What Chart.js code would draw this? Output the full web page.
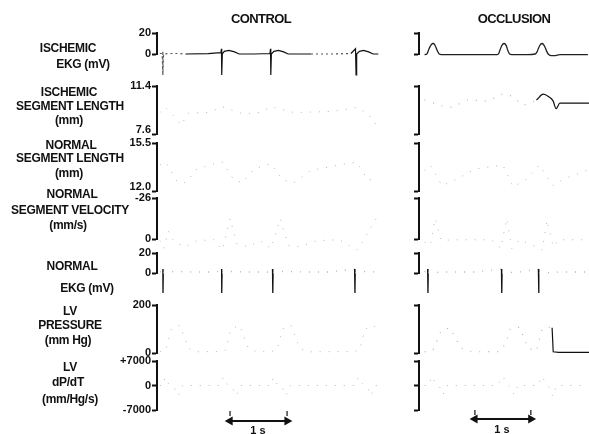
<!DOCTYPE html>
<html><head><meta charset="utf-8">
<script src="https://cdn.jsdelivr.net/npm/chart.js@4"></script>
<style>
html,body{margin:0;padding:0;background:#fff;width:589px;height:434px;overflow:hidden;}
#wrap{position:relative;width:589px;height:434px;font-family:"Liberation Sans",Arial,sans-serif;font-weight:bold;color:#111;}
.t{position:absolute;width:200px;text-align:center;white-space:nowrap;font-size:12px;line-height:14px;letter-spacing:-0.3px;z-index:2;}
.ttl{font-size:13px;letter-spacing:-0.6px;}
.sb{font-size:11px;letter-spacing:0;}
.box{position:absolute;}
</style></head>
<body><div id="wrap">
<div class="t ttl" style="left:161px;top:12px">CONTROL</div>
<div class="t ttl" style="left:414px;top:12px">OCCLUSION</div>

<div class="t" style="left:-32px;top:41px">ISCHEMIC</div>
<div class="t" style="left:-17px;top:57px">EKG (mV)</div>

<div class="t" style="left:-31px;top:85px">ISCHEMIC</div>
<div class="t" style="left:-30px;top:99px">SEGMENT LENGTH</div>
<div class="t" style="left:-31px;top:113px">(mm)</div>

<div class="t" style="left:-29px;top:138px">NORMAL</div>
<div class="t" style="left:-30px;top:151px">SEGMENT LENGTH</div>
<div class="t" style="left:-31px;top:166px">(mm)</div>

<div class="t" style="left:-28px;top:187px">NORMAL</div>
<div class="t" style="left:-30px;top:203px">SEGMENT VELOCITY</div>
<div class="t" style="left:-32px;top:218px">(mm/s)</div>

<div class="t" style="left:-28px;top:259px">NORMAL</div>
<div class="t" style="left:-13px;top:281px">EKG (mV)</div>

<div class="t" style="left:-30px;top:304px">LV</div>
<div class="t" style="left:-30px;top:318px">PRESSURE</div>
<div class="t" style="left:-32px;top:333px">(mm Hg)</div>

<div class="t" style="left:-30px;top:360px">LV</div>
<div class="t" style="left:-32px;top:375px">dP/dT</div>
<div class="t" style="left:-30px;top:392px">(mm/Hg/s)</div>

<div class="t sb" style="left:158px;top:423px">1 s</div>
<div class="t sb" style="left:402px;top:422px">1 s</div>

<div class="box" style="left:117px;top:25px;width:283px;height:409px"><canvas id="c1"></canvas></div>
<div class="box" style="left:407px;top:25px;width:182px;height:409px"><canvas id="c2"></canvas></div>
</div>
<script>
// ---------- tick values / labels per row (a label given as [text, ''] sits a little above its tick) ----------
const ischEkgTicks = [0, 20];          const ischEkgLabels = ['0', '20'];
const ischLenTicks = [7.6, 11.4];      const ischLenLabels = [['7.6', ''], '11.4'];
const normLenTicks = [12.0, 15.5];     const normLenLabels = [['12.0', ''], '15.5'];
const normVelTicks = [-26, 0];         const normVelLabels = ['-26', '0'];
const normEkgTicks = [0, 20];          const normEkgLabels = ['0', '20'];
const lvpTicks = [0, 200];             const lvpLabels = ['0', '200'];
const dpdtTicks = [-7000, 0, 7000];    const dpdtLabels = ['-7000', '0', '+7000'];

// ---------- CONTROL series  [time (s), value] ----------
const ctrlIschEKG = [[0.05,0.5],[0.09,0.5],[0.10,3],[0.105,-20],[0.115,0],[0.2,0.5],[0.35,0.5],[0.5,0],[0.9,0.3],[1.05,1],[1.12,1],[1.13,5],[1.135,-20],[1.145,0],[1.18,2.5],[1.26,3.5],[1.36,2],[1.44,0],[1.7,0],[1.98,0.5],[1.99,5],[1.995,-20],[2.005,0],[2.05,2.5],[2.13,3.5],[2.22,2],[2.30,0],[2.7,0],[3.1,0],[3.40,0.5],[3.48,5],[3.49,-20],[3.50,0],[3.55,2.5],[3.62,3.5],[3.71,2],[3.79,0],[3.88,0]];
const ctrlIschLen = [[0.05,9.3],[0.15,9.7],[0.3,9.0],[0.42,8.3],[0.55,9.25],[0.9,9.3],[1.15,9.75],[1.3,9.5],[1.5,9.2],[1.8,9.3],[2.0,9.75],[2.15,9.6],[2.4,9.3],[2.8,9.35],[3.1,9.4],[3.5,9.7],[3.7,9.2],[3.88,8.1]];
const ctrlNormLen = [[0.05,13.9],[0.15,14.1],[0.35,12.7],[0.5,12.6],[0.7,13.6],[1.0,14.0],[1.15,14.1],[1.35,12.8],[1.5,12.6],[1.7,13.6],[2.0,14.0],[2.2,12.8],[2.4,12.6],[2.7,13.5],[3.2,13.9],[3.5,14.1],[3.7,12.8],[3.88,12.9]];
const ctrlNormVel = [[0.05,1],[0.12,6],[0.2,-5],[0.3,2],[0.5,5],[0.7,1],[1.0,0.5],[1.15,7],[1.28,-13],[1.4,3],[1.6,5],[1.8,1],[2.0,6],[2.16,-13],[2.3,4],[2.5,5],[2.8,1],[3.2,0.5],[3.5,7],[3.6,2],[3.86,-14]];
const ctrlNormEKG = [[0.05,1],[0.1,2],[0.103,4],[0.105,-20],[0.11,0],[0.3,1.5],[0.6,1],[1.0,1],[1.13,2],[1.133,4],[1.135,-20],[1.14,0],[1.3,1.5],[1.6,1],[2.0,1],[2.025,4],[2.03,-20],[2.035,0],[2.2,1.5],[2.6,1],[3.0,1],[3.465,4],[3.47,-20],[3.475,0],[3.65,1.5],[3.88,1]];
const ctrlLVP = [[0.05,5],[0.15,10],[0.25,100],[0.4,115],[0.55,20],[0.7,5],[1.1,6],[1.2,12],[1.3,100],[1.45,115],[1.6,20],[1.75,5],[2.0,6],[2.1,12],[2.2,100],[2.35,115],[2.5,20],[2.65,5],[3.45,6],[3.55,12],[3.65,100],[3.8,115],[3.88,90]];
const ctrlDPDT = [[0.05,0],[0.11,0],[0.14,2300],[0.2,500],[0.3,-500],[0.37,-2900],[0.45,0],[1.1,0],[1.16,2300],[1.22,500],[1.32,-500],[1.39,-2900],[1.47,0],[2.0,0],[2.04,2300],[2.1,500],[2.2,-500],[2.26,-2900],[2.34,0],[3.47,0],[3.53,2300],[3.6,500],[3.69,-500],[3.75,-2900],[3.83,0],[3.88,0]];
const ctrlScaleBar = [[1.28,11],[2.28,11]];
const ctrlBarTickL = [[1.28,1],[1.28,6]];
const ctrlBarTickR = [[2.28,1],[2.28,6]];

// ---------- OCCLUSION series ----------
const occIschEKG = [[0.10,-0.5],[0.14,0],[0.18,5],[0.22,9],[0.25,10],[0.28,9],[0.32,4],[0.36,0],[0.40,-0.5],[0.7,-0.5],[1.0,-0.5],[1.40,-0.5],[1.43,1],[1.45,4],[1.48,8],[1.52,10],[1.56,8],[1.59,3],[1.62,0],[1.66,-0.5],[1.93,-0.5],[2.08,0],[2.11,2],[2.14,6],[2.17,9],[2.20,10],[2.24,8],[2.28,3],[2.31,0],[2.36,-1.5],[2.42,-1.5],[2.52,-0.5],[3.02,-0.5]];
const occIschLen = [[0.1,10.3],[0.3,10.0],[0.55,9.7],[0.9,10.3],[1.2,10.2],[1.5,10.75],[1.7,10.5],[1.85,9.9],[2.0,10.1],[2.1,10.3],[2.22,10.75],[2.32,10.55],[2.4,10.2],[2.45,9.6],[2.52,10.05],[2.7,10.05],[3.04,10.05]];
const occNormLen = [[0.1,13.5],[0.2,13.9],[0.41,12.4],[0.6,12.7],[1.0,13.6],[1.5,13.9],[1.68,12.3],[1.9,12.8],[2.15,13.9],[2.39,12.4],[2.6,12.9],[3.0,13.5]];
const occNormVel = [[0.1,2],[0.2,4],[0.29,-13],[0.4,1],[0.6,0.5],[1.0,0.5],[1.3,0.5],[1.46,6],[1.57,-13],[1.66,6],[1.8,0.5],[2.1,5],[2.2,7],[2.29,-12],[2.4,5],[2.5,0.5],[3.02,0.5]];
const occNormEKG = [[0.1,1],[0.155,4],[0.16,-20],[0.165,0],[0.4,1],[1.0,1],[1.475,4],[1.48,-20],[1.485,0],[1.8,1],[2.135,4],[2.14,-20],[2.145,0],[2.5,1],[3.02,1]];
const occLVP = [[0.1,5],[0.25,12],[0.4,95],[0.55,105],[0.75,20],[0.95,5],[1.45,6],[1.55,40],[1.63,100],[1.8,108],[1.95,20],[2.1,8],[2.2,100],[2.3,108],[2.38,105],[2.40,5],[2.5,3],[3.04,3]];
const occDPDT = [[0.1,0],[0.17,0],[0.23,2600],[0.3,500],[0.37,-500],[0.43,-2600],[0.5,0],[1.4,0],[1.5,2600],[1.57,500],[1.64,-500],[1.7,-2600],[1.77,0],[2.13,0],[2.2,2600],[2.27,500],[2.33,-500],[2.39,-3100],[2.46,0],[3.02,0]];
const occScaleBar = [[1.0,9],[2.0,9]];
const occBarTickL = [[1.0,0],[1.0,5]];
const occBarTickR = [[2.0,0],[2.0,5]];

// ---------- layout (pixel heights of brackets and gaps) ----------
const rowDefs = [
  {ticks: ischEkgTicks, labels: ischEkgLabels, h: 21, gap: 32},
  {ticks: ischLenTicks, labels: ischLenLabels, h: 48, gap: 9},
  {ticks: normLenTicks, labels: normLenLabels, h: 48, gap: 7},
  {ticks: normVelTicks, labels: normVelLabels, h: 41, gap: 14, reverse: true},
  {ticks: normEkgTicks, labels: normEkgLabels, h: 20, gap: 32},
  {ticks: lvpTicks, labels: lvpLabels, h: 48, gap: 8},
  {ticks: dpdtTicks, labels: dpdtLabels, h: 49, gap: 24}
];
const STACK_LAST_ON_TOP = true;
const INK = '#111';

function noPad(s) { s.paddingTop = 0; s.paddingBottom = 0; }
function buildScales(showLabels, axisWidth, xMax) {
  const list = [];
  rowDefs.forEach((r, i) => {
    const mn = Math.min(...r.ticks), mx = Math.max(...r.ticks);
    list.push(['r' + i, {
      type: 'linear', position: 'left', stack: 'rows', stackWeight: r.h,
      min: mn, max: mx, reverse: !!r.reverse,
      border: {display: true, color: INK, width: 2},
      grid: {drawOnChartArea: false, drawTicks: true, tickLength: 5, tickWidth: 2, tickColor: INK},
      ticks: {display: showLabels, autoSkip: false, padding: 1, color: INK,
        font: {family: 'Liberation Sans', size: 11, weight: 'bold', lineHeight: 0.7},
        callback: (v) => { const k = r.ticks.indexOf(v); return k >= 0 ? r.labels[k] : ''; }},
      afterBuildTicks: (s) => { s.ticks = r.ticks.map(v => ({value: v})); },
      afterFit: (s) => { s.width = axisWidth; noPad(s); }
    }]);
    const gap = {type: 'linear', position: 'left', stack: 'rows', stackWeight: r.gap, display: false, afterFit: noPad};
    if (i === rowDefs.length - 1) { gap.min = 0; gap.max = 24; gap.reverse = true; }
    list.push(['g' + i, gap]);
  });
  const ordered = STACK_LAST_ON_TOP ? list.slice().reverse() : list;
  const scales = {x: {type: 'linear', min: 0, max: xMax, display: false}};
  ordered.forEach(([k, v]) => { scales[k] = v; });
  return scales;
}

function pts(a) { return a.map(p => ({x: p[0], y: p[1]})); }
const FAINT = '#b4b4b4';
const faintStyle = {borderColor: FAINT, borderWidth: 1, borderDash: [1, 8]};
function inRanges(x, ranges) { return ranges.some(r => x >= r[0] && x <= r[1]); }
function rangeStyle(solidRanges, darkDash) {
  return {borderColor: INK, borderWidth: 1.2, segment: {
    borderColor: c => (inRanges(c.p0.parsed.x, solidRanges) && inRanges(c.p1.parsed.x, solidRanges)) ? INK : (darkDash ? '#555' : FAINT),
    borderDash: c => (inRanges(c.p0.parsed.x, solidRanges) && inRanges(c.p1.parsed.x, solidRanges)) ? [] : (darkDash ? [2, 3] : [1, 8])
  }};
}
function spikeStyle(thr) {
  return {borderColor: INK, borderWidth: 1.3, segment: {
    borderColor: c => Math.abs(c.p1.parsed.y - c.p0.parsed.y) > thr ? INK : FAINT,
    borderDash: c => Math.abs(c.p1.parsed.y - c.p0.parsed.y) > thr ? [] : [1, 8]
  }};
}
function ds(arr, yid, style, extra) {
  return Object.assign({data: pts(arr), xAxisID: 'x', yAxisID: yid, pointRadius: 0, fill: false, tension: 0, clip: false}, style, extra || {});
}
function barSets(bar, tl, tr) {
  return [
    ds(bar, 'g6', {borderColor: INK, borderWidth: 1.8}, {pointRadius: 3.5, pointStyle: 'triangle', pointRotation: [-90, 90], pointBackgroundColor: INK, pointBorderColor: INK}),
    ds(tl, 'g6', {borderColor: INK, borderWidth: 1.2}),
    ds(tr, 'g6', {borderColor: INK, borderWidth: 1.2})
  ];
}

function makeChart(id, sets, showLabels, axisWidth, xMax) {
  return new Chart(document.getElementById(id), {
    type: 'line',
    data: {datasets: sets},
    options: {
      responsive: true, maintainAspectRatio: false, animation: false,
      layout: {autoPadding: false, padding: {top: 8, left: 0, right: 0, bottom: 0}},
      plugins: {legend: {display: false}, tooltip: {enabled: false}},
      scales: buildScales(showLabels, axisWidth, xMax)
    }
  });
}

makeChart('c1', [
  ds(ctrlIschEKG, 'r0', rangeStyle([[0.5, 2.7], [3.39, 4]], true)),
  ds(ctrlIschLen, 'r1', faintStyle),
  ds(ctrlNormLen, 'r2', faintStyle),
  ds(ctrlNormVel, 'r3', faintStyle),
  ds(ctrlNormEKG, 'r4', spikeStyle(8)),
  ds(ctrlLVP, 'r5', faintStyle),
  ds(ctrlDPDT, 'r6', faintStyle),
  ...barSets(ctrlScaleBar, ctrlBarTickL, ctrlBarTickR)
], true, 40, 4.26);

makeChart('c2', [
  ds(occIschEKG, 'r0', {borderColor: '#222', borderWidth: 1.3}, {cubicInterpolationMode: 'monotone'}),
  ds(occIschLen, 'r1', rangeStyle([[2.05, 3.1]], false), {cubicInterpolationMode: 'monotone'}),
  ds(occNormLen, 'r2', faintStyle),
  ds(occNormVel, 'r3', faintStyle),
  ds(occNormEKG, 'r4', spikeStyle(8)),
  ds(occLVP, 'r5', rangeStyle([[2.37, 3.1]], false)),
  ds(occDPDT, 'r6', faintStyle),
  ...barSets(occScaleBar, occBarTickL, occBarTickR)
], false, 12, 3.04);
</script>
</body></html>
